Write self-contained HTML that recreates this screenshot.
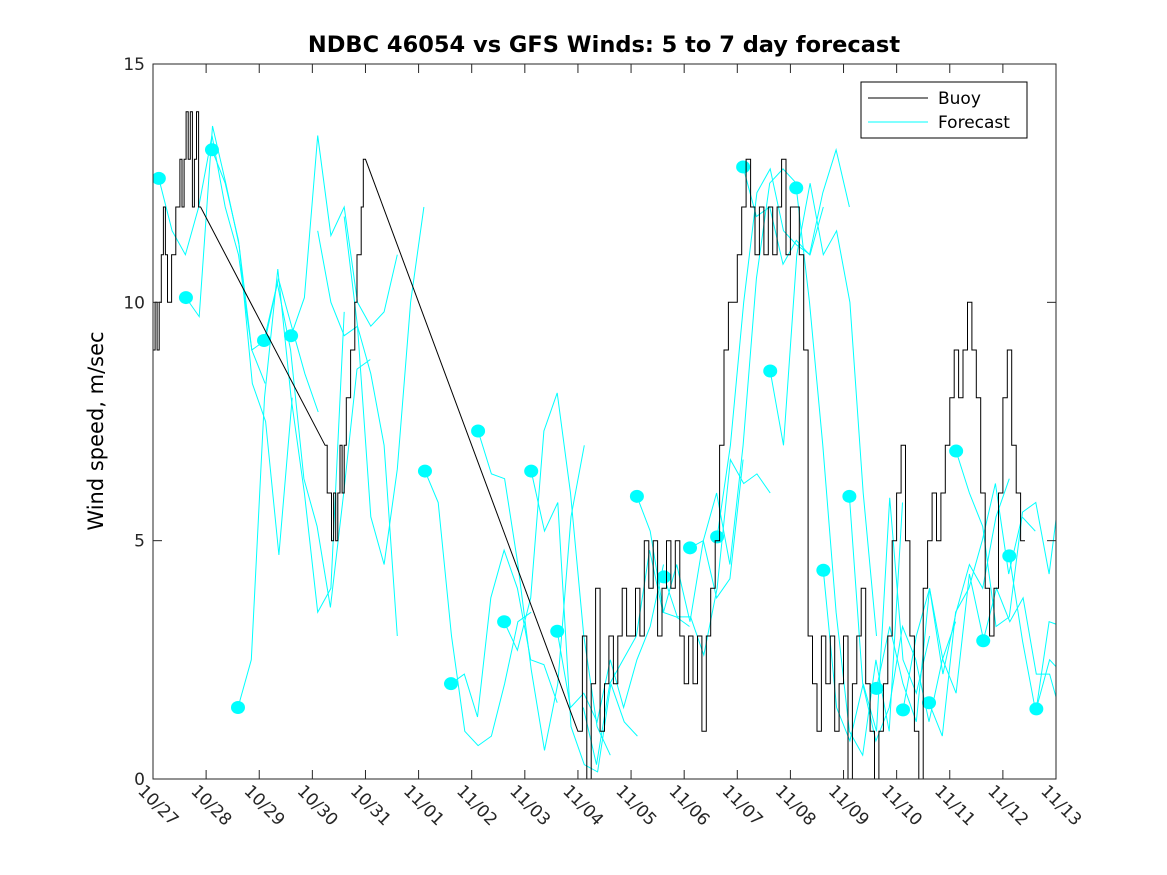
<!DOCTYPE html>
<html><head><meta charset="utf-8"><style>
body{margin:0;background:#fff;}
svg{display:block;font-family:"DejaVu Sans","Liberation Sans",sans-serif;}
</style></head><body>
<svg id="chart" width="1167" height="875" viewBox="0 0 1167 875">
<rect width="1167" height="875" fill="#fff"/>
<defs><clipPath id="pc"><rect x="153" y="64" width="903" height="715"/></clipPath></defs>
<text x="604" y="52" text-anchor="middle" font-size="22.5" font-weight="bold">NDBC 46054 vs GFS Winds: 5 to 7 day forecast</text>
<text transform="translate(103,431) rotate(-90)" text-anchor="middle" font-size="21">Wind speed, m/sec</text>
<g id="plot" clip-path="url(#pc)"></g>
<g id="axes"></g>
<g>
<rect x="861" y="82" width="166" height="56" fill="#fff" stroke="#000" stroke-width="1"/>
<line x1="868" y1="98" x2="928" y2="98" stroke="#000"/>
<text x="938" y="104" font-size="17">Buoy</text>
<line x1="868" y1="122" x2="928" y2="122" stroke="#00ffff"/>
<text x="938" y="128" font-size="17">Forecast</text>
</g>
</svg>
<script>
const xTickLabels=["10/27","10/28","10/29","10/30","10/31","11/01","11/02","11/03","11/04","11/05","11/06","11/07","11/08","11/09","11/10","11/11","11/12","11/13"];
const yTicks=[0,5,10,15];
const buoyA=[9,10,9,10,11,12,11,10,10,11,11,12,12,13,12,13,14,13,14,12,13,14,12];
const buoyB=[7,6,6,5,6,5,6,7,6,7,8,8,9,9,10,11,11,12,13];
const buoyC=[1,3,0,2,4,1,2,3,2,3,4,3, 3,4,3,5,4,5,3,4,5,4,5,3, 2,3,2,3,1,3,4,5,7,9,10,10, 11,12,13,12,11,12,11,12,11,12,13,11, 12,12,11,9,3,2,1,3,2,3,1,2, 3,0,2,3,4,2,1,0,1,2,3,5, 6,7,5,3,1,0,4,5,6,5,6,7, 8,9,8,9,10,9,8,6,4,3,4,6, 8,9,7,6,5];
const fcStarts=[0.11,0.62,1.11,1.6,2.09,2.6,5.12,5.61,6.12,6.61,7.12,7.61,9.11,9.62,10.11,10.62,11.11,11.62,12.11,12.62,13.11,13.62,14.12,14.61,15.12,15.63,16.12,16.63];
const fcValues=[
[12.6,11.5,11,12,13.5,12,11,9,8.3],
[10.1,9.7,13.7,12.5,11.2,8.3,7.5,4.7,8],
[13.2,12.5,11.3,9,9.2,10.5,9.5,8.5,7.7],
[1.5,2.5,8,10.7,8,6,3.5,4,9.8],
[9.2,10.4,9,6.3,5.3,3.6,6,8.6,8.8],
[9.3,10.1,13.5,11.4,12,10,9.5,9.8,11],
[6.46,5.8,3,1,0.7,0.9,2,3.3,3.5],
[2,2.2,1.3,3.8,4.8,4,2.5,2.4,1.6],
[7.3,6.4,6.3,4.5,2.3,0.6,2,5.5,7],
[3.3,2.7,3.8,7.3,8.1,6,3,1.1,0.5],
[6.46,5.2,5.8,1.1,0.3,0.15,2,1.2,0.9],
[3.1,1.5,1.8,1.2,2.5,1.5,2.5,3.2,4.5],
[5.93,5.2,3.5,4.5,3.3,5,3.8,4.2,6.7],
[4.24,3.4,3.4,2.6,4,6.7,6.2,6.4,6],
[4.85,5,6,4.5,7,10.5,12.5,12.8,12.5],
[5.08,7,10,12.3,12.8,11.5,11.2,11,12],
[12.84,11.8,12,10.8,11.3,11,12.3,13.2,12],
[8.56,7,11,12.5,11,11.5,10,6,3],
[12.4,10,7,3.5,1,0.5,2.5,1,5.8],
[4.38,1.5,0.8,2,1,5.9,2.5,1.8,3],
[5.93,2,0.8,1.5,3.2,2.5,1.2,2.5,3.3],
[1.9,3.2,2,1.2,4,2.5,1.8,4.3,3],
[1.45,3,4,2.2,3.5,4.5,4,5.5,6.3],
[1.6,0.9,3.5,4,5,6.2,4.3,5.5,5.2],
[6.88,6,5.3,3.2,3.4,5.6,5.8,4.3,6.5],
[2.9,4,3.3,3.8,2.2,2.2,1.2,3.2,4.3],
[4.68,2.9,1.4,3.3,3.2,1.5,2.4,2.2,3],
[1.47,2.5,2.2,2,2.4]];
const fcExtraStarts=[3.1,3.6,8.1];
const fcExtraValues=[[11.5,10,9.3,9.5,5.5,4.5,6.5,10,12],[11.8,9.5,8.5,7,3],[1.5,0.3,2,2.5,3,4.8,3.5,3.4,3.2]];

const X0=153,X1=1056,Y0=779,Y1=64;
const xs=d=>X0+(X1-X0)*d/17;
const ys=v=>Y0-(Y0-Y1)*v/15;
const NS="http://www.w3.org/2000/svg";
const plot=document.getElementById('plot'),axes=document.getElementById('axes');
function mk(tag,at,parent){const e=document.createElementNS(NS,tag);for(const k in at)e.setAttribute(k,at[k]);parent.appendChild(e);return e;}

function drawFc(start,vals,dot){
  const pts=vals.map((v,i)=>xs(start+i*0.25).toFixed(1)+','+ys(v).toFixed(1)).join(' ');
  const pl=mk('polyline',{points:pts,fill:'none',stroke:'#00ffff','stroke-width':1},plot);
  
  
  if(dot){const c=mk('ellipse',{cx:xs(start),cy:ys(vals[0]),rx:7,ry:6.5,fill:'#00ffff'},plot);
  
  }
}
fcStarts.forEach((s,i)=>drawFc(s,fcValues[i],true));
fcExtraStarts.forEach((s,i)=>drawFc(s,fcExtraValues[i],false));

let bp=[];
function stepSeg(start,step,vals){vals.forEach((v,i)=>{bp.push([start+i*step,v]);bp.push([start+(i+1)*step,v]);});}
stepSeg(0,0.039,buoyA);
stepSeg(3.24,0.04,buoyB);
stepSeg(8.0,1/12,buoyC);
const bl=mk('polyline',{points:bp.map(p=>xs(p[0]).toFixed(1)+','+ys(p[1]).toFixed(1)).join(' '),fill:'none',stroke:'#000','stroke-width':1},plot);



const box=mk('rect',{x:X0,y:Y1,width:X1-X0,height:Y0-Y1,fill:'none',stroke:'#262626','stroke-width':1},axes);


yTicks.forEach(v=>{
  const y=ys(v);
  mk('line',{x1:X0,y1:y,x2:X0+9,y2:y,stroke:'#262626'},axes);
  mk('line',{x1:X1,y1:y,x2:X1-9,y2:y,stroke:'#262626'},axes);
  const t=mk('text',{x:X0-8,y:y+6,'text-anchor':'end','font-size':17,fill:'#262626'},axes);
  t.textContent=v;
  
  
});
xTickLabels.forEach((l,i)=>{
  const x=xs(i);
  mk('line',{x1:x,y1:Y0,x2:x,y2:Y0-9,stroke:'#262626'},axes);
  mk('line',{x1:x,y1:Y1,x2:x,y2:Y1+9,stroke:'#262626'},axes);
  const t=mk('text',{transform:`translate(${x-16},${Y0+13}) rotate(45)`,'font-size':17,fill:'#262626'},axes);
  t.textContent=l;
  
  
});
</script>
</body></html>
